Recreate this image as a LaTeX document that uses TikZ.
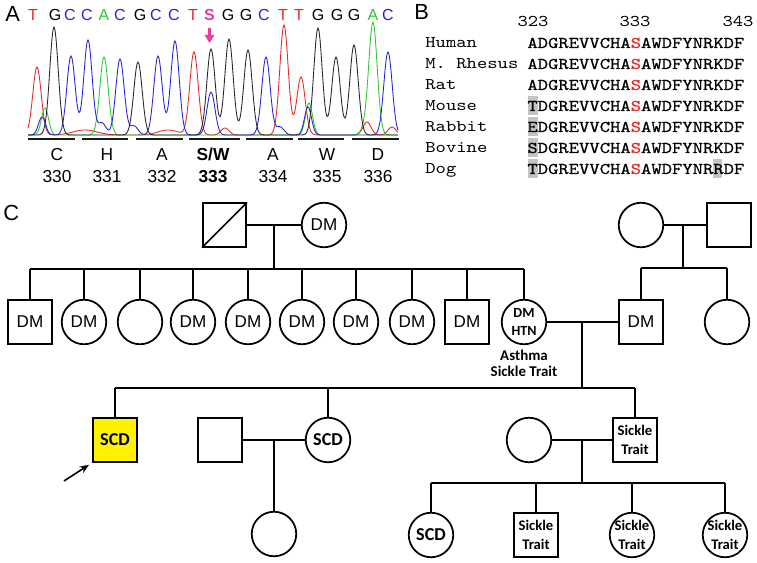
\documentclass[tikz,border=0pt]{standalone}
\usepackage{fontspec}
\setmainfont{Liberation Sans}
\newfontfamily\calibri{Carlito}
\newfontfamily\cour{lmmono10-regular.otf}[FakeStretch=1.2]
\newfontfamily\courb{lmmono10-regular.otf}[FakeStretch=1.2,FakeBold=0.6]
\usetikzlibrary{arrows.meta,positioning}
\definecolor{tred}{RGB}{228,40,40}
\definecolor{tblue}{RGB}{35,35,220}
\definecolor{tgreen}{RGB}{45,200,45}
\definecolor{tpink}{RGB}{232,60,165}
\definecolor{hlgray}{RGB}{196,196,196}

\begin{document}
\begin{tikzpicture}[x=0.75pt,y=-0.75pt,line width=0.6pt,
  declare function={pk(\px,\pc,\ph,\ps)=\ph*exp(-min(30,((\px-\pc)/\ps)^2/2));},
  male/.style={draw,rectangle,minimum size=32.6pt,inner sep=0pt,line width=1.3pt},
  female/.style={draw,circle,minimum size=33.4pt,inner sep=0pt,line width=1.3pt},
  dm/.style={font=\fontsize{12.8}{15}\selectfont},
  sick/.style={font=\calibri\bfseries\fontsize{11}{14}\selectfont,align=center},
  scd/.style={font=\calibri\bfseries\fontsize{13.6}{16}\selectfont},
  sickc/.style={female,label={[sick]center:{Sickle\\Trait}}},
  link/.style={line width=1.1pt},
  panel/.style={font=\fontsize{16.4}{18}\selectfont,anchor=base west,inner sep=0pt},
  nuc/.style={font=\fontsize{12}{14}\selectfont,anchor=base,inner sep=0pt},
  aa/.style={font=\fontsize{13}{15}\selectfont,anchor=base,inner sep=0pt},
  spec/.style={font=\cour\fontsize{12.3}{15}\selectfont,anchor=base west,inner sep=0pt},
  seq/.style={font=\courb\fontsize{12.3}{15}\selectfont,anchor=base west,inner sep=0pt},
  trace/.style={line width=0.65pt}]
  \useasboundingbox (0,0) rectangle (757,563);

  % A: 测序峰图
  \node[panel] (pA) at (5,21.5) {A};
  \foreach \x/\b/\c in {33/T/tred,55/G/black,70/C/tblue,87/C/tblue,104/A/tgreen,
      120/C/tblue,140/G/black,156/C/tblue,174/C/tblue,193/T/tred,228/G/black,
      246/G/black,264/C/tblue,283/T/tred,299/T/tred,318/G/black,337/G/black,
      354/G/black,373/A/tgreen,388/C/tblue}
    \node[nuc,text=\c] (n\x) at (\x,21) {\b};
  \node[nuc,text=tpink,font=\fontsize{12}{14}\selectfont\bfseries] (n209) at (209.5,21) {S};
  \coordinate (tip) at (209.5,43);
  \draw[tpink,line width=2.2pt,-{Triangle[length=6pt,width=7pt]}] ([yshift=-4.5pt]n209.south) -- (tip);

  \draw[trace,tred] plot[domain=28:398,samples=371] (\x,{135-pk(\x,37,68,4.2)-pk(\x,194,83,4.2)
    -pk(\x,284,110,4.2)-pk(\x,301,58,4.2)-pk(\x,85,5,12)-pk(\x,168,5,10)-pk(\x,225,7,4)
    -pk(\x,367,13,4)-pk(\x,392,8,4)});
  \draw[trace,tgreen] plot[domain=28:398,samples=371] (\x,{135-pk(\x,45,27,3.5)-pk(\x,104,78,4.2)
    -pk(\x,309,32,3.5)-pk(\x,373,112,4.2)-pk(\x,365,6,4)});
  \draw[trace,tblue] plot[domain=28:398,samples=371] (\x,{135-pk(\x,42,18,3.5)-pk(\x,71,79,4.2)
    -pk(\x,88,95,4.2)-pk(\x,102,12,4)-pk(\x,120,76,4.2)-pk(\x,134,9,4)-pk(\x,158,79,4.2)
    -pk(\x,175,94,4.2)-pk(\x,211,43,4)-pk(\x,266,78,4.2)-pk(\x,280,8,4)-pk(\x,308,28,3.5)
    -pk(\x,388,83,4.2)});
  \draw[trace,black!85] plot[domain=28:398,samples=371] (\x,{135-pk(\x,54,108,4.2)-pk(\x,138,73,4.2)
    -pk(\x,211,86,4.2)-pk(\x,229,96,4.2)-pk(\x,248,85,4.2)-pk(\x,318,107,4.2)
    -pk(\x,336,78,4.2)-pk(\x,354,90,4.2)});

  % 密码子下划线与氨基酸
  \foreach \a/\b in {28/75,82/128,136/183,189/240,246/293,298/344,352/399}
    \draw[line width=1.6pt,black!90] (\a,139) -- (\b,139);
  \foreach \x/\l/\n in {57/C/330,107/H/331,162/A/332,273/A/334,327/W/335,378/D/336} {
    \node[aa] (a\n) at (\x,161) {\l};
    \node[aa] (k\n) at (\x,182.5) {\n};
  }
  \node[aa,font=\fontsize{13}{15}\selectfont\bfseries] (a333) at (213,161) {S/W};
  \node[aa,font=\fontsize{13}{15}\selectfont\bfseries] (k333) at (213,182.5) {333};

  % B: 序列比对
  \node[panel] (pB) at (414,20) {B};
  \node[spec,anchor=base] (c323) at (533,27) {323};
  \node[spec,anchor=base] (c333) at (635,27) {333};
  \node[spec,anchor=base] (c343) at (738,27) {343};
  \foreach \y in {111,132,153,174}
    \fill[hlgray] (527.5,\y-15) rectangle (538,\y+4);
  \fill[hlgray] (713,159) rectangle (722,178);
  \node[spec] (hum) at (425,48) {Human};
  \node[spec] (rhe) at (425,69) {M. Rhesus};
  \node[spec] (rat) at (425,90) {Rat};
  \node[spec] (mou) at (425,111) {Mouse};
  \node[spec] (rab) at (425,132) {Rabbit};
  \node[spec] (bov) at (425,153) {Bovine};
  \node[spec] (dog) at (425,174) {Dog};
  \node[seq] (shum) at (527,48) {ADGREVVCHA\textcolor{tred}{S}AWDFYNRKDF};
  \node[seq] (srhe) at (527,69) {ADGREVVCHA\textcolor{tred}{S}AWDFYNRKDF};
  \node[seq] (srat) at (527,90) {ADGREVVCHA\textcolor{tred}{S}AWDFYNRKDF};
  \node[seq] (smou) at (527,111) {TDGREVVCHA\textcolor{tred}{S}AWDFYNRKDF};
  \node[seq] (srab) at (527,132) {EDGREVVCHA\textcolor{tred}{S}AWDFYNRKDF};
  \node[seq] (sbov) at (527,153) {SDGREVVCHA\textcolor{tred}{S}AWDFYNRKDF};
  \node[seq] (sdog) at (527,174) {TDGREVVCHA\textcolor{tred}{S}AWDFYNRRDF};

  % C: 家系图
  \node[panel] (pC) at (3,220) {C};

  % 第一代
  \node[male] (I1) at (224.5,225) {};
  \node[female,dm] (I2) at (324,225) {DM};
  \node[female] (I3) at (641,225) {};
  \node[male] (I4) at (729,225) {};
  \draw[line width=1.1pt] (I1.south west) -- (I1.north east);

  % 第二代
  \node[male,dm] (II1) at (30,322) {DM};
  \node[female,dm] (II2) at (84,322) {DM};
  \node[female] (II3) at (140,322) {};
  \node[female,dm] (II4) at (193,322) {DM};
  \node[female,dm] (II5) at (248,322) {DM};
  \node[female,dm] (II6) at (302,322) {DM};
  \node[female,dm] (II7) at (356,322) {DM};
  \node[female,dm] (II8) at (412,322) {DM};
  \node[male,dm] (II9) at (467,322) {DM};
  \node[female,sick,font=\calibri\bfseries\fontsize{10.5}{13.9}\selectfont] (II10) at (524,322) {DM\\HTN};
  \node[male,dm] (II11) at (641,322) {DM};
  \node[female] (II12) at (727,322) {};
  \node[sick,font=\calibri\bfseries\fontsize{11.2}{12.4}\selectfont,below=0pt of II10] (note) {Asthma\\Sickle Trait};

  % 第三代
  \node[male,scd,fill=yellow] (III1) at (115,440) {SCD};
  \node[male] (III2) at (220,440) {};
  \node[female,scd] (III3) at (328,440) {SCD};
  \node[female] (III4) at (529,440) {};
  \node[male,sick] (III5) at (635,440) {Sickle\\Trait};

  % 第四代
  \node[female] (IV1) at (274,534) {};
  \node[female,scd] (IV2) at (431,535) {SCD};
  \node[male,sick] (IV3) at (536,535) {Sickle\\Trait};
  \node[sickc] (IV4) at (632,535) {};
  \node[sickc] (IV5) at (725,535) {};

  % 连线
  \coordinate (m1) at (274,225);
  \coordinate (s1) at (274,269);
  \coordinate (m2) at (683,225);
  \coordinate (s2) at (683,268);
  \coordinate (m3) at (582,322);
  \coordinate (s3) at (582,388);
  \coordinate (m4) at (274,440);
  \coordinate (m5) at (582,440);
  \coordinate (s5) at (582,483);
  \draw[link] (I1) -- (I2);
  \draw[link] (m1) -- (s1);
  \draw[link] (II1.north |- s1) -- (II10.north |- s1);
  \foreach \n in {1,...,10}
    \draw[link] (II\n.north |- s1) -- (II\n.north);
  \draw[link] (I3) -- (I4);
  \draw[link] (m2) -- (s2);
  \draw[link] (II11.north |- s2) -- (II12.north |- s2);
  \draw[link] (II11.north |- s2) -- (II11.north);
  \draw[link] (II12.north |- s2) -- (II12.north);
  \draw[link] (II10) -- (II11);
  \draw[link] (m3) -- (s3);
  \draw[link] (III1.north |- s3) -- (III5.north |- s3);
  \draw[link] (III1.north |- s3) -- (III1.north);
  \draw[link] (III3.north |- s3) -- (III3.north);
  \draw[link] (III5.north |- s3) -- (III5.north);
  \draw[link] (III2) -- (III3);
  \draw[link] (m4) -- (IV1.north);
  \draw[link] (III4) -- (III5);
  \draw[link] (m5) -- (s5);
  \draw[link] (IV2.north |- s5) -- (IV5.north |- s5);
  \foreach \n in {2,...,5}
    \draw[link] (IV\n.north |- s5) -- (IV\n.north);

  % 先证者箭头
  \coordinate (pb) at (64,481);
  \draw[line width=1.2pt,-{Stealth[length=7pt,width=5.5pt]},shorten >=3pt] (pb) -- (III1.south west);
\end{tikzpicture}
\end{document}
